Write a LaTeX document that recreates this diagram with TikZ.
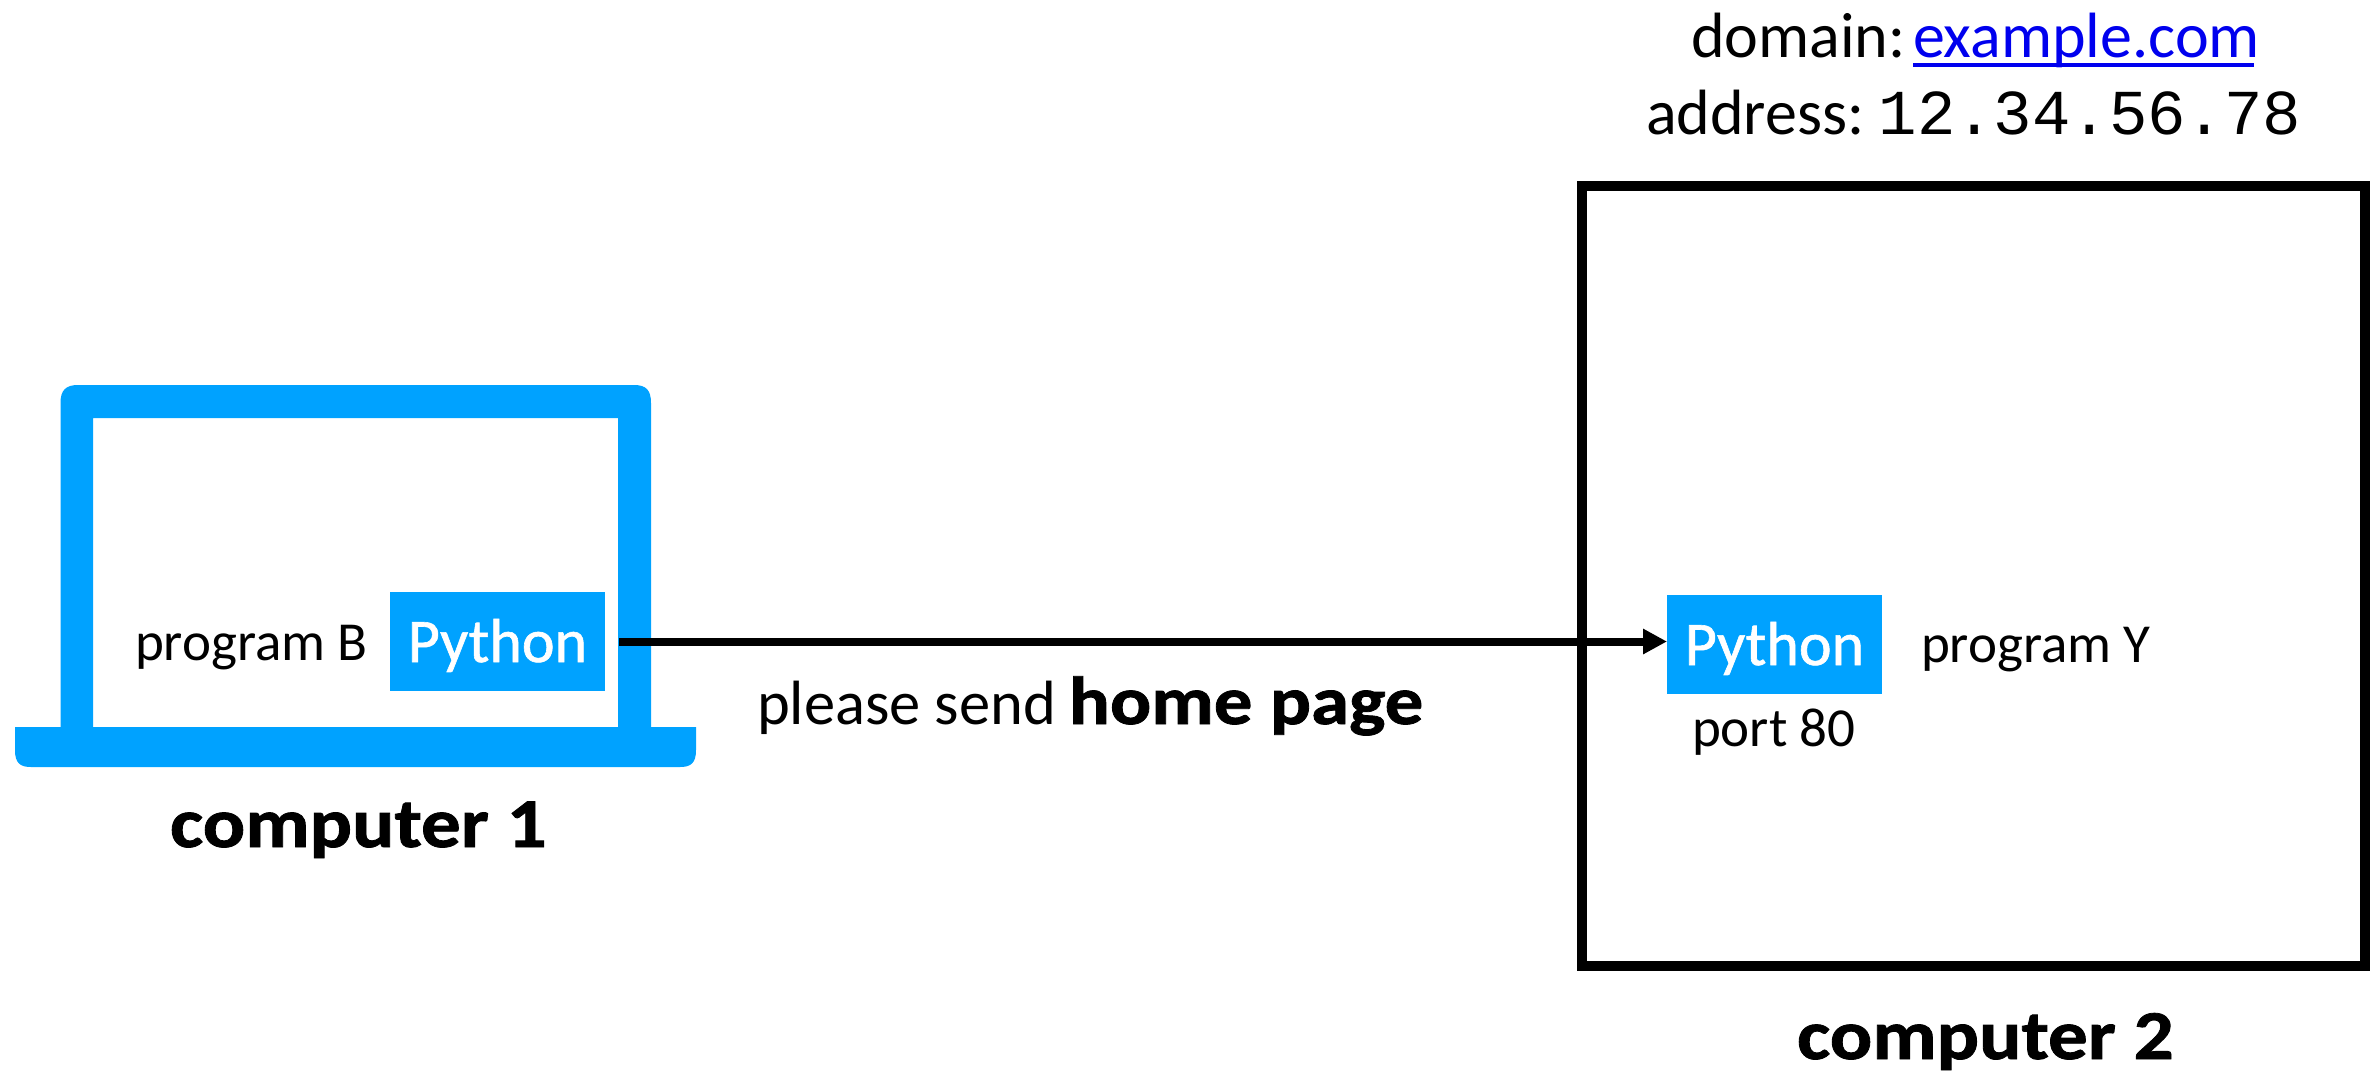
\documentclass[tikz,border=0pt]{standalone}
\usepackage{fontspec}
\setmainfont{Carlito}
\newfontfamily\numfont{Liberation Mono}
\newfontfamily\heavy[FakeStretch=1.13,FakeBold=1.2]{Carlito}
\newfontfamily\pyfont[FakeBold=1]{Carlito}
\usetikzlibrary{arrows.meta,calc}
\definecolor{skyb}{HTML}{00A2FF}
\definecolor{linkb}{HTML}{0000EE}
\tikzset{
  lbl/.style={anchor=base west,inner sep=0pt,outer sep=0pt,font=\fontsize{55}{60}\selectfont},
  biglbl/.style={anchor=base west,inner sep=0pt,outer sep=0pt,font=\fontsize{62.5}{74}\selectfont},
  complbl/.style={anchor=base west,inner sep=0pt,outer sep=0pt,font=\fontsize{70}{78}\selectfont\heavy\bfseries},
  headlbl/.style={anchor=base west,inner sep=0pt,outer sep=0pt,font=\fontsize{64}{72}\selectfont},
  pybox/.style={fill=skyb,text=white,inner sep=0pt,outer sep=0pt,minimum width=215pt,minimum height=99pt,font=\fontsize{62}{68}\selectfont\pyfont},
  hostbox/.style={draw=black,line width=10.5pt,inner sep=0pt,outer sep=0pt,minimum width=783pt,minimum height=780pt},
  flow/.style={draw=black,line width=8pt,-{Triangle[length=24pt,width=24pt]},shorten <=14pt}
}
\begin{document}
\begin{tikzpicture}[x=1pt,y=-1pt]
\useasboundingbox (0,0) rectangle (2371,1072);
% laptop
\fill[skyb,even odd rule]
  (60.5,727) -- (60.5,403) .. controls (60.5,390) and (66,385) .. (78,385)
  -- (634,385) .. controls (646,385) and (651,390) .. (651,403) -- (651,727) -- cycle
  (93,418) rectangle (618,727);
\fill[skyb] (15,727) -- (696,727) -- (696,750) .. controls (696,763) and (691,767) .. (680,767)
  -- (31,767) .. controls (20,767) and (15,763) .. (15,750) -- cycle;
\node[hostbox] (host) at (1582+391.5,186+390) {};
\node[pybox] (py1) at (497.5,641.5) {\smash{\raisebox{-20.5pt}{Python}}};
\node[pybox] (py2) at (1774.5,644.5) {\smash{\raisebox{-20.5pt}{Python}}};
\draw[flow] (py1.east) -- (py1.east -| py2.west);
\node[lbl] (progb) at (135,660) {program B};
\node[lbl] (progy) at (1921,662) {program Y};
\node[lbl] (port) at (1692,746) {port 80};
\node[biglbl] (msg) at (757,724) {please send\hspace{-1.5pt} {\fontsize{68}{74}\selectfont\heavy\bfseries home page}};
\node[complbl] (comp1) at (170,847) {computer 1};
\node[complbl] (comp2) at (1797,1059) {computer 2};
\node[headlbl] (dom) at (1691,57) {domain:};
\node[headlbl,text=linkb] (link) at (1913,57) {example.com};
\node[headlbl] (addr) at (1646,134) {address:\hspace{-5pt} {\numfont\fontsize{64}{72}\selectfont 12.34.56.78}};
\fill[linkb] (1913,63) rectangle (2254,66.5);
\end{tikzpicture}
\end{document}
